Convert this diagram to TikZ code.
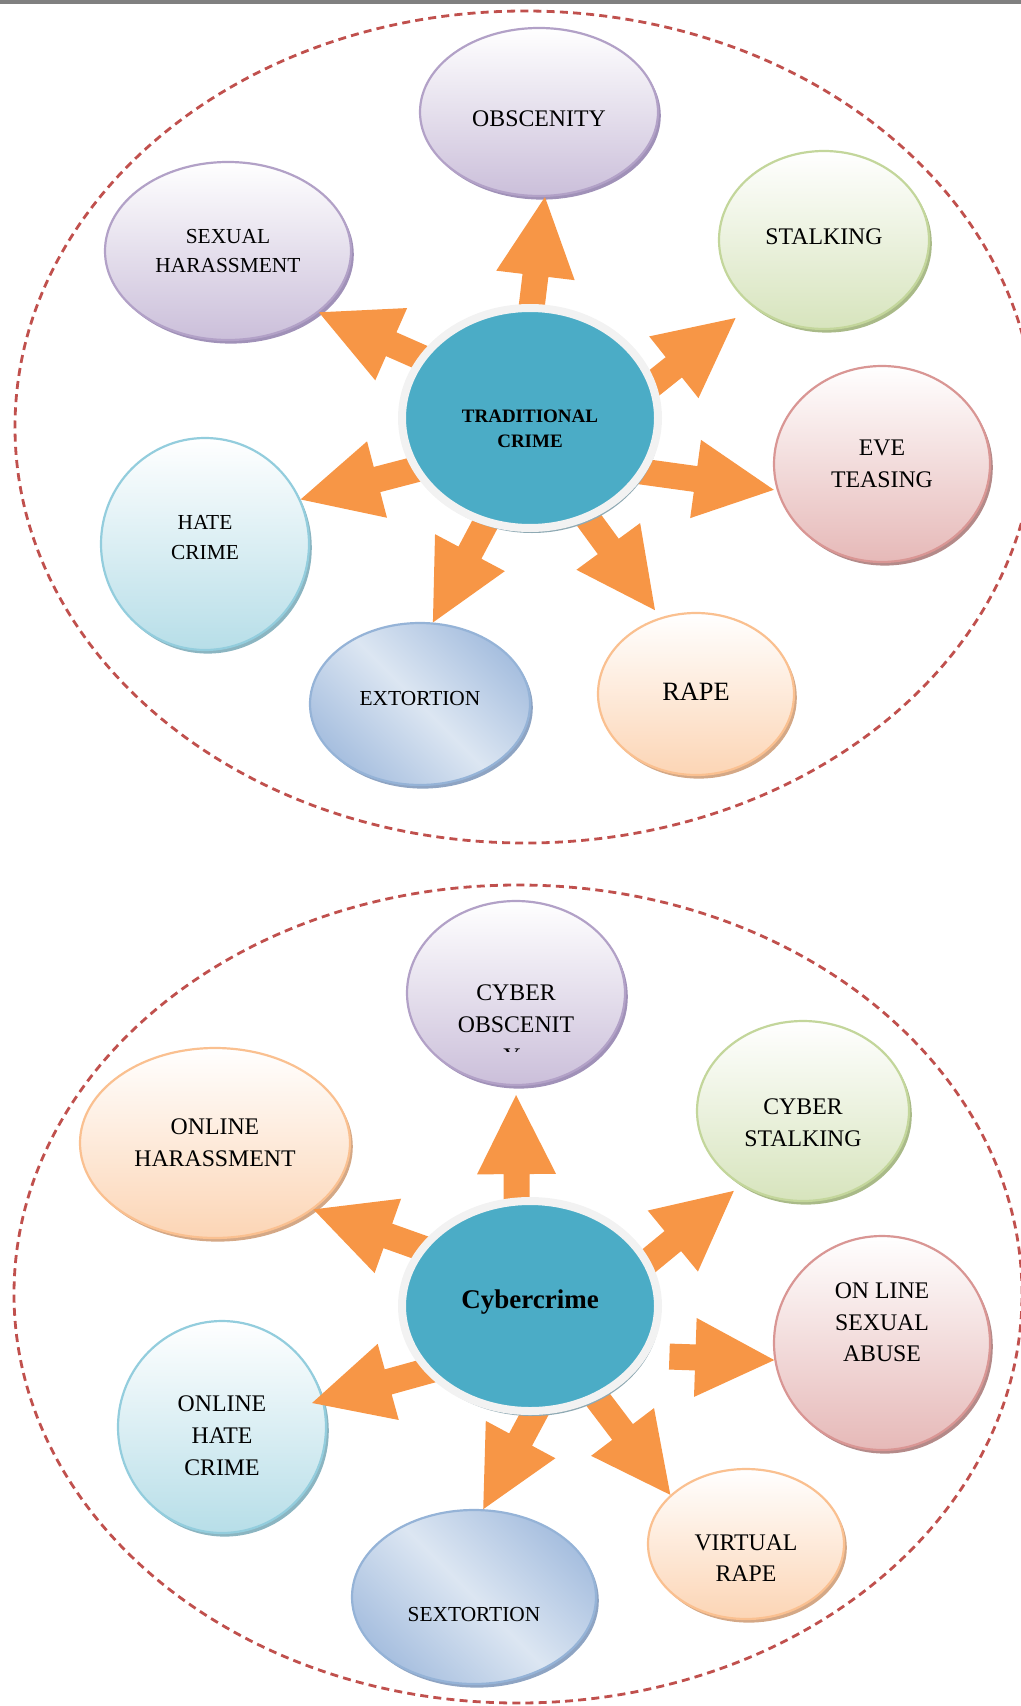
\documentclass[tikz,border=0pt]{standalone}
\usepackage{fontspec}
\setmainfont{Liberation Serif}
\usetikzlibrary{shapes.geometric,shadows,calc}
\definecolor{purpleline}{HTML}{B2A1C7}
\definecolor{purplefill}{HTML}{CBBFDA}
\definecolor{purpleshade}{HTML}{A091B8}
\definecolor{greenline}{HTML}{C3D69B}
\definecolor{greenfill}{HTML}{D7E4BD}
\definecolor{greenshade}{HTML}{A9BA88}
\definecolor{redline}{HTML}{D99694}
\definecolor{redfill}{HTML}{E6B9B8}
\definecolor{redshade}{HTML}{B48A89}
\definecolor{cyanline}{HTML}{93CDDD}
\definecolor{cyanfill}{HTML}{B7DEE8}
\definecolor{cyanshade}{HTML}{8BB5C1}
\definecolor{blueline}{HTML}{95B3D7}
\definecolor{bluedark}{HTML}{A7BFDF}
\definecolor{bluelight}{HTML}{DCE6F2}
\definecolor{blueshade}{HTML}{8EA4C3}
\definecolor{orangeline}{HTML}{FAC090}
\definecolor{orangefill}{HTML}{FCD5B5}
\definecolor{orangeshade}{HTML}{D4A886}
\definecolor{arroworange}{HTML}{F79646}
\definecolor{tealfill}{HTML}{4BACC6}
\definecolor{ringgray}{HTML}{F2F2F2}
\definecolor{tealshade}{HTML}{8EA9B3}
\definecolor{dashred}{HTML}{C0504D}
\definecolor{topbar}{HTML}{808080}
\pgfdeclarelayer{front}
\pgfsetlayers{main,front}
\begin{document}
\begin{tikzpicture}[x=0.5pt,y=-0.5pt]
\tikzstyle{bubble}=[ellipse, inner sep=0pt, line width=1.1pt]
\tikzstyle{lbl}=[align=center, inner sep=0pt, font=\fontsize{11.9}{15.8}\selectfont]
\tikzstyle{smalltext}=[font=\fontsize{10.7}{14.7}\selectfont]
\tikzstyle{purplebub}=[bubble, draw=purpleline, top color=white, bottom color=purplefill, drop shadow={shadow xshift=1.4pt, shadow yshift=-1.8pt, fill=purpleshade, opacity=1}]
\tikzstyle{greenbub}=[bubble, draw=greenline, top color=white, bottom color=greenfill, drop shadow={shadow xshift=1.4pt, shadow yshift=-1.8pt, fill=greenshade, opacity=1}]
\tikzstyle{redbub}=[bubble, draw=redline, top color=white, bottom color=redfill, drop shadow={shadow xshift=1.4pt, shadow yshift=-1.8pt, fill=redshade, opacity=1}]
\tikzstyle{cyanbub}=[bubble, draw=cyanline, top color=white, bottom color=cyanfill, drop shadow={shadow xshift=1.4pt, shadow yshift=-1.8pt, fill=cyanshade, opacity=1}]
\tikzstyle{orangebub}=[bubble, draw=orangeline, top color=white, bottom color=orangefill, drop shadow={shadow xshift=1.4pt, shadow yshift=-1.8pt, fill=orangeshade, opacity=1}]
\tikzstyle{bluebub}=[bubble, draw=blueline, left color=bluedark, right color=bluedark, middle color=bluelight, shading angle=135, drop shadow={shadow xshift=1.4pt, shadow yshift=-1.8pt, fill=blueshade, opacity=1}]
\tikzstyle{hub}=[ellipse, inner sep=0pt, fill=tealfill, draw=ringgray, line width=4pt, drop shadow={shadow xshift=1pt, shadow yshift=-2.5pt, fill=tealshade, opacity=1}]
\tikzstyle{dashring}=[draw=dashred, line width=1.4pt, dash pattern=on 4pt off 2.6pt]
\useasboundingbox (0,0) rectangle (1021,1706);
\fill[topbar] (0,0) rectangle (1021,4);

\draw[dashring] (525,427) ellipse [x radius=255pt, y radius=208pt];
\draw[dashring] (518,1294) ellipse [x radius=252pt, y radius=204.5pt];

\node[purplebub, minimum width=119pt, minimum height=84pt] (obsc) at (539,112) {};
\node[purplebub, minimum width=123pt, minimum height=89pt] (sexh) at (228,251) {};
\node[greenbub, minimum width=105pt, minimum height=89pt] (stalk) at (824,240) {};
\node[redbub, minimum width=108pt, minimum height=98pt] (eve) at (882,464) {};
\node[cyanbub, minimum width=104pt, minimum height=106pt] (hate) at (205,544) {};
\node[bluebub, minimum width=110pt, minimum height=81pt] (ext) at (420,704) {};
\node[orangebub, minimum width=98pt, minimum height=81pt] (rape) at (696,694) {};

\node[lbl] (obsc-t) at ([yshift=-3.3pt]obsc.center) {OBSCENITY};
\node[lbl, smalltext] (sexh-t) at (sexh.center) {SEXUAL\\HARASSMENT};
\node[lbl] (stalk-t) at ([yshift=1.6pt]stalk.center) {STALKING};
\node[lbl] (eve-t) at (eve.center) {EVE\\TEASING};
\node[lbl, smalltext] (hate-t) at ([yshift=3.3pt]hate.center) {HATE\\CRIME};
\node[lbl, smalltext] (ext-t) at ([yshift=2.7pt]ext.center) {EXTORTION};
\node[lbl, font=\fontsize{13.2}{16}\selectfont] (rape-t) at ([yshift=1pt]rape.center) {RAPE};

\node[purplebub, minimum width=109pt, minimum height=92pt] (cobsc) at (516,993) {};
\node[orangebub, minimum width=135pt, minimum height=95pt] (oharr) at (215,1143) {};
\node[greenbub, minimum width=106pt, minimum height=90pt] (cstalk) at (803,1111) {};
\node[redbub, minimum width=108pt, minimum height=107pt] (olsa) at (882,1343) {};
\node[cyanbub, minimum width=104pt, minimum height=106pt] (ohc) at (222,1427) {};
\node[bluebub, minimum width=122pt, minimum height=87pt] (sext) at (474,1597) {};
\node[orangebub, minimum width=98pt, minimum height=75pt] (vrape) at (746,1544) {};

\node[lbl] (cobsc-t) at ([yshift=-7.8pt]cobsc.center) {CYBER\\OBSCENIT};
\begin{scope}
\clip (480,1048.5) rectangle (545,1051);
\node[lbl] (cobsc-y) at (512,1057) {Y};
\end{scope}
\node[lbl] (oharr-t) at (oharr.center) {ONLINE\\HARASSMENT};
\node[lbl] (cstalk-t) at ([yshift=-6pt]cstalk.center) {CYBER\\STALKING};
\node[lbl] (olsa-t) at ([yshift=10.3pt]olsa.center) {ON LINE\\SEXUAL\\ABUSE};
\node[lbl] (ohc-t) at ([yshift=-4.4pt]ohc.center) {ONLINE\\HATE\\CRIME};
\node[lbl, smalltext] (sext-t) at ([yshift=-8.7pt]sext.center) {SEXTORTION};
\node[lbl] (vrape-t) at ([yshift=-7pt]vrape.center) {VIRTUAL\\RAPE};

\begin{pgfonlayer}{front}
\node[hub, minimum width=128pt, minimum height=110pt] (trad) at (530,418) {};
\node[lbl, font=\bfseries\fontsize{9.5}{12.6}\selectfont] (trad-t) at ([yshift=-5.4pt]trad.center) {TRADITIONAL\\CRIME};
\node[hub, minimum width=128pt, minimum height=105pt] (cyber) at (530,1306) {};
\node[lbl, font=\bfseries\fontsize{13.5}{16}\selectfont] (cyber-t) at ([yshift=2.2pt]cyber.center) {Cybercrime};
\end{pgfonlayer}

\foreach \from/\to/\gfrom/\gto in {trad.89/obsc.-86/-8pt/0pt, trad.151/sexh.-34/-8pt/0pt,
    trad.16/stalk.222/-8pt/10pt, trad.-25/eve.194/-8pt/1.5pt, trad.204/hate.25/-8pt/0pt,
    trad.247/ext.81/-8pt/0pt, trad.-60/rape.115/-8pt/4.5pt,
    cyber.97/cobsc.-90/-8pt/4.5pt, cyber.152/oharr.-34/-8pt/0pt, cyber.21/cstalk.230/-8pt/4.5pt,
    cyber.-23/olsa.189/11pt/0pt, cyber.212/ohc.15/-8pt/-6pt, cyber.-88/sext.84/-8pt/0pt,
    cyber.-54/vrape.147/-8pt/0pt}{
  \coordinate (ta) at ($(\from)!\gfrom!(\to)$);
  \coordinate (tb) at ($(\to)!\gto!(\from)$);
  \coordinate (hb) at ($(tb)!39.5pt!(ta)$);
  \fill[arroworange] ($(ta)!6.5pt!90:(tb)$) -- ($(hb)!6.5pt!90:(tb)$) -- ($(hb)!19.75pt!90:(tb)$) -- (tb)
    -- ($(hb)!19.75pt!-90:(tb)$) -- ($(hb)!6.5pt!-90:(tb)$) -- ($(ta)!6.5pt!-90:(tb)$) -- cycle;
}
\end{tikzpicture}
\end{document}
